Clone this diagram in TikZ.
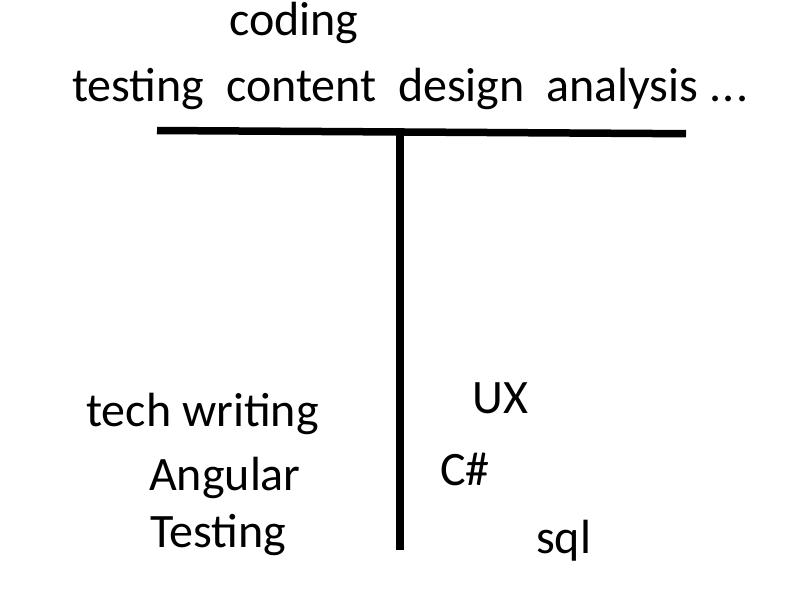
\documentclass[tikz,border=0pt]{standalone}
\usepackage{fontspec}
\setmainfont{Carlito}
\begin{document}
\begin{tikzpicture}[x=1pt,y=1pt,
  lbl/.style={inner sep=0pt,anchor=base west,font=\fontsize{48}{57}\selectfont},
  bar/.style={line width=7.5pt,line cap=butt}]
\useasboundingbox[fill=white] (0,0) rectangle (800,-600);
\node[lbl] (coding) at (229,-35) {coding};
\node[lbl] (top) at (72,-101) {testing\ \ content\ \ design\ \ analysis\ .\kern1.5pt.\kern1.5pt.};
\coordinate (hl) at (157,-130.5);
\coordinate (hr) at (686,-133.7);
\coordinate (vt) at (399.5,-131);
\coordinate (vb) at (399.5,-550);
\draw[bar] (hl) -- (hr);
\draw[bar,line width=8pt] (vt) -- (vb);
\node[lbl] (tw) at (86,-426) {tech writing};
\node[lbl] (ang) at (149,-490) {Angular};
\node[lbl] (tst) at (150,-547) {Testing};
\node[lbl] (ux) at (472,-413) {UX};
\node[lbl] (cs) at (440,-485) {C\#};
\node[lbl] (sql) at (536,-553) {sql};
\end{tikzpicture}
\end{document}
